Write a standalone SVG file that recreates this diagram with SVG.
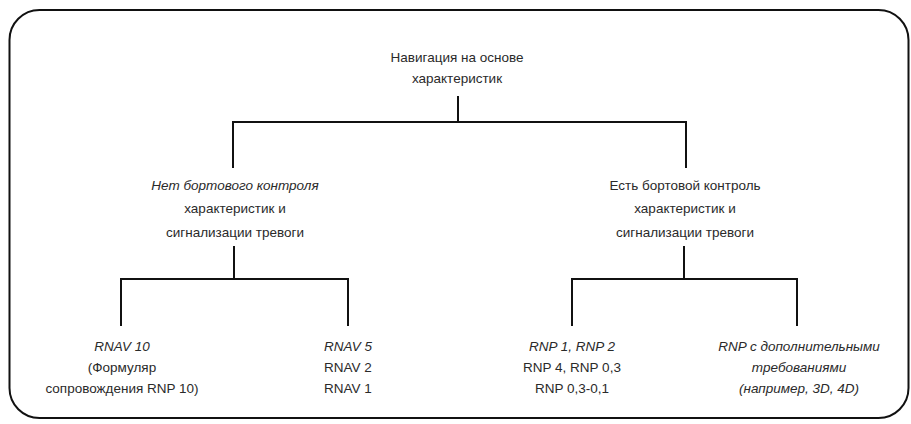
<svg xmlns="http://www.w3.org/2000/svg" width="911" height="424" viewBox="0 0 911 424">
<style>
text{font-family:"Liberation Sans",Arial,sans-serif;font-size:13.5px;fill:#2a2a2a;text-anchor:middle}
.i{font-style:italic}
.c{fill:none;stroke:#111;stroke-width:2;stroke-linecap:square}
</style>
<rect width="911" height="424" fill="#fff"/>
<rect x="9.5" y="10" width="899" height="408" rx="30" ry="30" fill="none" stroke="#111" stroke-width="2"/>
<g id="connectors">
<path class="c" d="M458 97V122M233 167V122H686V167"/>
<path class="c" d="M234 247V279M121 325V279H348V325"/>
<path class="c" d="M684 247V279M572 325V279H797V325"/>
</g>
<g id="root">
<text x="457" y="62">Навигация на основе</text>
<text x="457" y="83">характеристик</text>
</g>
<g id="no-monitoring">
<text class="i" x="235" y="190">Нет бортового контроля</text>
<text x="235" y="213">характеристик и</text>
<text x="235" y="237">сигнализации тревоги</text>
</g>
<g id="monitoring">
<text x="685" y="190">Есть бортовой контроль</text>
<text x="685" y="213">характеристик и</text>
<text x="685" y="237">сигнализации тревоги</text>
</g>
<g id="rnav10">
<text class="i" x="122" y="351">RNAV 10</text>
<text x="122" y="372">(Формуляр</text>
<text x="122" y="393">сопровождения RNP 10)</text>
</g>
<g id="rnav5">
<text class="i" x="348" y="351">RNAV 5</text>
<text x="348" y="372">RNAV 2</text>
<text x="348" y="393">RNAV 1</text>
</g>
<g id="rnp">
<text class="i" x="572" y="351">RNP 1, RNP 2</text>
<text x="572" y="372">RNP 4, RNP 0,3</text>
<text x="572" y="393">RNP 0,3-0,1</text>
</g>
<g id="rnp-advanced">
<text class="i" x="799" y="351">RNP с дополнительными</text>
<text class="i" x="799" y="372">требованиями</text>
<text class="i" x="799" y="393">(например, 3D, 4D)</text>
</g>
</svg>
